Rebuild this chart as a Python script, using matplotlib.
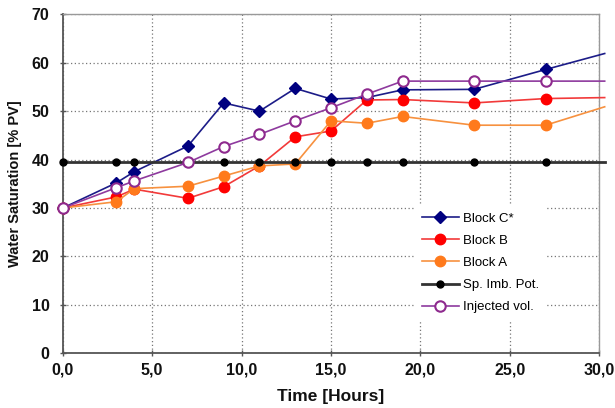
import matplotlib
matplotlib.use("Agg")
import matplotlib.pyplot as plt

# ---- data (last value of each series: line end beyond 30 h, no marker) ----
time_c = [0, 3, 4, 7, 9, 11, 13, 15, 17, 19, 23, 27, 30.3]
block_c = [30.0, 35.2, 37.5, 42.8, 51.7, 50.0, 54.7, 52.5, 52.8, 54.4, 54.5, 58.6, 61.9]

time_b = [0, 3, 4, 7, 9, 11, 13, 15, 17, 19, 23, 27, 30.3]
block_b = [30.0, 32.3, 33.9, 32.0, 34.4, 38.7, 44.7, 45.9, 52.3, 52.4, 51.7, 52.6, 52.8]

time_a = [0, 3, 4, 7, 9, 11, 13, 15, 17, 19, 23, 27, 30.3]
block_a = [30.0, 31.3, 34.0, 34.5, 36.6, 38.7, 39.1, 48.0, 47.5, 48.9, 47.1, 47.1, 50.9]

time_sp = [0, 3, 4, 7, 9, 11, 13, 15, 17, 19, 23, 27, 30.3]
sp_imb = [39.4] * 13

time_inj = [0, 3, 4, 7, 9, 11, 13, 15, 17, 19, 23, 27, 30.3]
injected = [30.0, 34.2, 35.6, 39.4, 42.7, 45.2, 48.0, 50.7, 53.5, 56.2, 56.2, 56.2, 56.2]

labels = ["Block C*", "Block B", "Block A", "Sp. Imb. Pot.", "Injected vol."]
x_ticks = [0, 5, 10, 15, 20, 25, 30]
x_ticklabels = ["0,0", "5,0", "10,0", "15,0", "20,0", "25,0", "30,0"]
y_ticks = [0, 10, 20, 30, 40, 50, 60, 70]

plt.rcParams['font.family'] = ['Liberation Sans', 'DejaVu Sans']

fig = plt.figure(figsize=(6.15, 4.08), dpi=100)
ax = fig.add_axes([0.102, 0.134, 0.8725, 0.831])

mk = slice(0, -1)
ax.plot(time_c, block_c, color='#1c1c88', lw=1.2, marker='D', ms=6.5,
        mfc='#000080', mec='#000080', markevery=mk, clip_on=False, label=labels[0], zorder=3)
ax.plot(time_b, block_b, color='#f23a3a', lw=1.2, marker='o', ms=7.5,
        mfc='#ff0000', mec='#ff0000', markevery=mk, clip_on=False, label=labels[1], zorder=4)
ax.plot(time_a, block_a, color='#f7913f', lw=1.2, marker='o', ms=7.5,
        mfc='#ff7a1c', mec='#ff7a1c', markevery=mk, clip_on=False, label=labels[2], zorder=5)
ax.plot(time_sp, sp_imb, color='#333333', lw=2.0, marker='o', ms=5,
        mfc='black', mec='black', markevery=mk, clip_on=False, label=labels[3], zorder=6)
ax.plot(time_inj, injected, color='#8e3a9e', lw=1.2, marker='o', ms=7.5,
        mfc='white', mec='#8e2a8e', mew=1.5, markevery=mk, clip_on=False, label=labels[4], zorder=7)

ax.set_xlim(0, 30)
ax.set_ylim(0, 70)
ax.set_xticks(x_ticks)
ax.set_xticklabels(x_ticklabels)
ax.set_yticks(y_ticks)

ax.grid(True, linestyle=(0, (1, 2)), color='#777777', lw=0.9)
ax.set_axisbelow(True)

for s in ['left', 'bottom']:
    ax.spines[s].set_color('#555555')
    ax.spines[s].set_linewidth(1.3)
for s in ['top', 'right']:
    ax.spines[s].set_color('#999999')
    ax.spines[s].set_linewidth(1.0)

ax.tick_params(axis='both', direction='inout', length=5, width=1, color='#555555',
               labelsize=11.5, pad=4)
ax.tick_params(axis='y', pad=7)
for t in ax.get_xticklabels() + ax.get_yticklabels():
    t.set_fontweight('bold')
    t.set_color('#111111')

ax.set_xlabel("Time [Hours]", fontsize=12.5, fontweight='bold', color='#111111')
ax.set_ylabel("Water Saturation [% PV]", fontsize=10.5, fontweight='bold', color='#111111')
ax.xaxis.set_label_coords(0.5, -0.105)
ax.yaxis.set_label_coords(-0.076, 0.5)

leg = ax.legend(loc='upper left', bbox_to_anchor=(0.642, 0.458), fontsize=9.5,
                frameon=True, facecolor='white', edgecolor='none', framealpha=1,
                handlelength=2.8, handletextpad=0.3, labelspacing=0.75,
                borderpad=0.6, fancybox=False)
leg.set_zorder(10)

fig.savefig("out.png", dpi=100)
